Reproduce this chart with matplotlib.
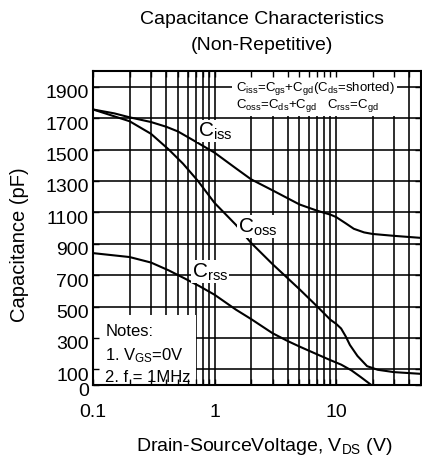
import numpy as np
import matplotlib
matplotlib.use("Agg")
import matplotlib.pyplot as plt
import matplotlib.transforms as mtransforms
from matplotlib.patches import Rectangle

plt.rcParams['font.family'] = ['Liberation Sans', 'DejaVu Sans']
plt.rcParams['mathtext.fontset'] = 'custom'
plt.rcParams['mathtext.rm'] = 'Liberation Sans'
plt.rcParams['mathtext.it'] = 'Liberation Sans'

# ---- data (V, pF) ----
v_iss = [0.1, 0.15, 0.2, 0.3, 0.4, 0.5, 0.7, 1.0, 1.5, 2.0, 3.0, 5.0, 7.0, 9.0, 10, 12, 14, 17, 20, 30, 50]
c_iss = [1755, 1730, 1705, 1675, 1645, 1615, 1550, 1480, 1380, 1310, 1240, 1150, 1110, 1085, 1070, 1030, 995, 972, 962, 950, 937]

v_oss = [0.1, 0.2, 0.3, 0.42, 0.55, 0.73, 1.0, 1.5, 2.0, 3.0, 4.0, 5.0, 7.0, 9.0, 10, 11, 12, 13, 15, 18, 22, 30, 50]
c_oss = [1755, 1680, 1600, 1500, 1410, 1300, 1160, 1020, 905, 770, 680, 610, 500, 415, 390, 360, 310, 255, 185, 120, 97, 82, 71]

v_rss = [0.1, 0.2, 0.3, 0.42, 0.57, 0.75, 1.0, 1.5, 2.0, 3.0, 4.0, 5.0, 7.0, 9.0, 11, 13.4, 16, 19.5, 22]
c_rss = [840, 815, 780, 730, 678, 630, 575, 480, 420, 330, 280, 245, 195, 158, 130, 93, 50, 0, -25]

x_major = [0.1, 1, 10]
x_minor = [0.2, 0.3, 0.4, 0.5, 0.6, 0.7, 0.8, 0.9,
           2, 3, 4, 5, 6, 7, 8, 9,
           20, 30, 40, 50]
y_ticks = [0, 100, 300, 500, 700, 900, 1100, 1300, 1500, 1700, 1900]

W, H = 422, 464
fig = plt.figure(figsize=(W / 100, H / 100), dpi=100)
ax = fig.add_axes([93 / W, (H - 386) / H, 328 / W, 314 / H])

ax.set_xscale('log')
ax.set_xlim(0.1, 50)
ax.set_ylim(0, 2000)

# grid drawn by hand so the white boxes can cover it while ticks stay on top
for v in x_major + x_minor:
    ax.axvline(v, color='black', lw=1.15, zorder=0.8)
for c in y_ticks:
    ax.axhline(c, color='black', lw=1.15, zorder=0.8)

ax.plot(v_iss, c_iss, color='black', lw=1.5, zorder=2)
ax.plot(v_oss, c_oss, color='black', lw=1.5, zorder=2)
ax.plot(v_rss, c_rss, color='black', lw=1.5, zorder=2)

# white boxes
ax.add_patch(Rectangle((0, 0), 0.314, 0.223, transform=ax.transAxes,
                       facecolor='white', edgecolor='none', zorder=1))
ax.add_patch(Rectangle((0.424, 0.857), 0.503, 0.143, transform=ax.transAxes,
                       facecolor='white', edgecolor='none', zorder=1))

ax.text(0.037, 0.175, "Notes:", transform=ax.transAxes, fontsize=12, va='center', zorder=3)
ax.text(0.037, 0.098, "1. V$_{\\rm GS}$=0V", transform=ax.transAxes, fontsize=12, va='center', zorder=3)
ax.text(0.037, 0.028, "2. f = 1MHz", transform=ax.transAxes, fontsize=12, va='center', zorder=3)

ax.text(0.437, 0.948, r"C$_{\rm iss}$=C$_{\rm gs}$+C$_{\rm gd}$(C$_{\rm ds}$=shorted)",
        transform=ax.transAxes, fontsize=9.5, va='center', zorder=3)
ax.text(0.437, 0.893, r"C$_{\rm oss}$=C$_{\rm ds}$+C$_{\rm gd}$   C$_{\rm rss}$=C$_{\rm gd}$",
        transform=ax.transAxes, fontsize=9.5, va='center', zorder=3)

lab_box = dict(facecolor='white', edgecolor='none', pad=0.5)
ax.text(0.73, 1585, r"C$_{\rm iss}$", fontsize=15, va='baseline', bbox=lab_box, zorder=3)
ax.text(1.56, 975, r"C$_{\rm oss}$", fontsize=15, va='baseline', bbox=lab_box, zorder=3)
ax.text(0.653, 690, r"C$_{\rm rss}$", fontsize=15, va='baseline', bbox=lab_box, zorder=3)

ax.set_xticks(x_major)
ax.set_xticklabels(["0.1", "1", "10"])
ax.set_xticks(x_minor, minor=True)
ax.set_xticklabels([], minor=True)
ax.set_yticks(y_ticks)
ax.set_yticklabels([str(c) for c in y_ticks])
ax.tick_params(which='both', direction='in', top=True, right=True, length=4,
               width=1, labelsize=14, color='black')
ax.tick_params(axis='x', pad=13)
ax.tick_params(axis='y', pad=3)
# y labels in the original sit a few pixels below their grid lines
shift = mtransforms.ScaledTranslation(0, -4 / 100, fig.dpi_scale_trans)
for lab in ax.get_yticklabels():
    lab.set_transform(lab.get_transform() + shift)
for s in ax.spines.values():
    s.set_linewidth(1.5)

fig.text(262 / W, 1 - 20 / H, "Capacitance Characteristics", fontsize=14, ha='center', va='center')
fig.text(262 / W, 1 - 45 / H, "(Non-Repetitive)", fontsize=14, ha='center', va='center')
fig.text(264 / W, 1 - 447 / H, "Drain-SourceVoltage, V$_{\\rm DS}$ (V)", fontsize=14, ha='center', va='center')
fig.text(20 / W, 1 - 245 / H, "Capacitance (pF)", fontsize=14.5, rotation=90, ha='center', va='center')

fig.savefig("out.png", dpi=100)
